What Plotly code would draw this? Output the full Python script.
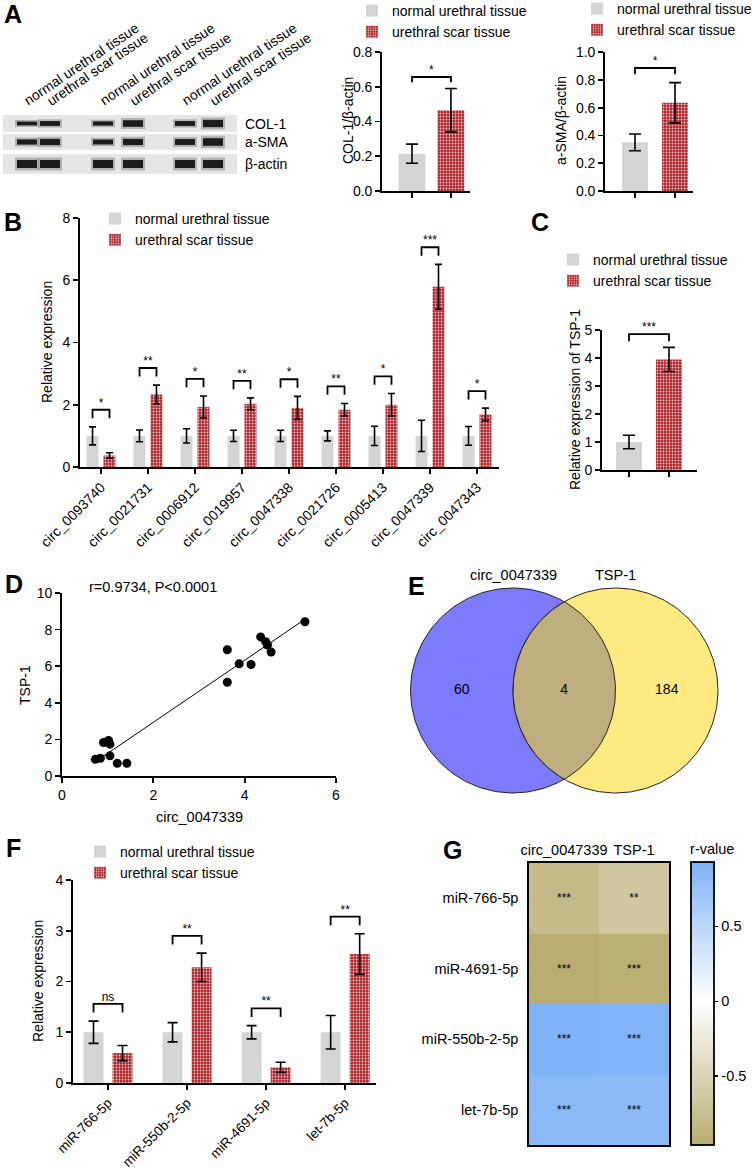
import numpy as np
import plotly.graph_objects as go

W, H = 755, 1171
FONT = "Arial, 'Liberation Sans', sans-serif"

# ------------------------------------------------------------------ data
groups = ["normal urethral tissue", "urethral scar tissue"]

# A: western blot (relative band intensity, 0..1)
blot_proteins = ["COL-1", "a-SMA", "β-actin"]
blot_lane_names = ["normal urethral tissue", "urethral scar tissue"] * 3
blot_lane_pos = [24, 47, 100, 130, 182, 210]
blot_intensity = [
    [0.40, 0.55, 0.45, 0.80, 0.55, 0.90],
    [0.60, 0.75, 0.55, 0.75, 0.70, 0.95],
    [1.00, 1.00, 1.00, 1.00, 1.00, 1.00],
]

# A: quantification
a1_label = "COL-1/β-actin"
a1_mean = [0.215, 0.465]
a1_err = [0.055, 0.125]
a1_sig = "*"
a2_label = "a-SMA/β-actin"
a2_mean = [0.35, 0.635]
a2_err = [0.06, 0.145]
a2_sig = "*"

# B: circRNA expression
b_circ = ["circ_0093740", "circ_0021731", "circ_0006912", "circ_0019957", "circ_0047338",
          "circ_0021726", "circ_0005413", "circ_0047339", "circ_0047343"]
b_normal_mean = [1.0, 1.0, 1.0, 1.0, 1.0, 1.0, 1.0, 1.0, 1.0]
b_normal_err = [0.29, 0.19, 0.23, 0.18, 0.18, 0.16, 0.31, 0.50, 0.30]
b_scar_mean = [0.37, 2.33, 1.93, 2.03, 1.90, 1.84, 2.00, 5.79, 1.69]
b_scar_err = [0.09, 0.30, 0.35, 0.19, 0.37, 0.20, 0.36, 0.72, 0.20]
b_sig = ["*", "**", "*", "**", "*", "**", "*", "***", "*"]

# C: TSP-1
c_mean = [1.0, 3.95]
c_err = [0.24, 0.43]
c_sig = "***"

# D: correlation
d_circ = [0.73, 0.84, 0.91, 1.02, 1.05, 1.05, 1.21, 1.42, 3.62, 3.62, 3.88, 4.14, 4.35, 4.46, 4.50, 4.58, 5.32]
d_tsp = [0.91, 0.97, 1.83, 1.94, 1.74, 1.10, 0.69, 0.69, 5.12, 6.90, 6.13, 6.09, 7.60, 7.34, 7.16, 6.77, 8.43]
d_text = "r=0.9734, P<0.0001"

# E: Venn
venn_sets = ["circ_0047339", "TSP-1"]
venn_counts = [60, 4, 184]

# F: miRNA expression
f_mirna = ["miR-766-5p", "miR-550b-2-5p", "miR-4691-5p", "let-7b-5p"]
f_normal_mean = [1.0, 1.0, 1.0, 1.0]
f_normal_err = [0.22, 0.19, 0.13, 0.33]
f_scar_mean = [0.59, 2.28, 0.31, 2.54]
f_scar_err = [0.15, 0.28, 0.10, 0.40]
f_sig = ["ns", "**", "**", "**"]

# G: correlation heatmap
g_targets = ["circ_0047339", "TSP-1"]
g_mirna = ["miR-766-5p", "miR-4691-5p", "miR-550b-2-5p", "let-7b-5p"]
g_r = [[-0.80, -0.65], [-0.96, -0.94], [0.93, 0.92], [0.86, 0.85]]
g_sig = [["***", "**"], ["***", "***"], ["***", "***"], ["***", "***"]]

# ------------------------------------------------------------------ helpers
def dx(x0, x1):
    return [x0 / W, x1 / W]

def dy(top, bottom):
    return [1 - bottom / H, 1 - top / H]

def px(x):
    return x / W

def py(y):
    return 1 - y / H

GREY = "#d5d5d5"
RED_BG = "#b0242a"
RED_FG = "#f0caca"
BLACK = "black"

def axstyle(**kw):
    d = dict(showline=True, linecolor=BLACK, linewidth=1.8, ticks="outside", ticklen=5,
             tickwidth=1.8, tickcolor=BLACK, showgrid=False, zeroline=False,
             tickfont=dict(size=14, color=BLACK, family=FONT), fixedrange=True)
    d.update(kw)
    return d

fig = go.Figure()

def add_pairs(xa, ya, leg, xn, xs, mn, en, ms, es, w, off_n, off_s, cap, sig, pad, tick, showleg=True):
    xn = np.asarray(xn, float)
    xs = np.asarray(xs, float)
    fig.add_trace(go.Bar(x=xn, y=mn, width=w, offset=off_n, name=groups[0], xaxis=xa, yaxis=ya,
                         marker=dict(color=GREY, line=dict(width=0)),
                         error_y=dict(type="data", array=en, color=BLACK, thickness=1.6, width=cap),
                         legend=leg, showlegend=showleg))
    fig.add_trace(go.Bar(x=xs, y=ms, width=w, offset=off_s, name=groups[1], xaxis=xa, yaxis=ya,
                         marker=dict(color=RED_BG, line=dict(width=0),
                                     pattern=dict(shape=".", bgcolor=RED_BG, fgcolor=RED_FG,
                                                  size=3, solidity=0.3)),
                         error_y=dict(type="data", array=es, color=BLACK, thickness=1.6, width=cap),
                         legend=leg, showlegend=showleg))
    cn = xn + off_n + w / 2
    cs = xs + off_s + w / 2
    tops = np.maximum(np.asarray(mn) + np.asarray(en), np.asarray(ms) + np.asarray(es))
    yb = tops + pad
    bx, by = [], []
    for a, b, y in zip(cn, cs, yb):
        bx += [a, a, b, b, None]
        by += [y - tick, y, y, y - tick, None]
    fig.add_trace(go.Scatter(x=bx, y=by, mode="lines", line=dict(color=BLACK, width=1.8),
                             xaxis=xa, yaxis=ya, showlegend=False, hoverinfo="skip", cliponaxis=False))
    fig.add_trace(go.Scatter(x=(cn + cs) / 2, y=yb, mode="text", text=sig, textposition="top center",
                             textfont=dict(size=12, color=BLACK, family=FONT), cliponaxis=False,
                             xaxis=xa, yaxis=ya, showlegend=False, hoverinfo="skip"))

# ------------------------------------------------------------------ A blot
row_y = [123.5, 142, 164]
row_half = [8.5, 8, 10]
shapes = []
for r, hh in zip(row_y, row_half):
    shapes.append(dict(type="rect", xref="x9", yref="y9", x0=0, x1=234, y0=r - hh, y1=r + hh,
                       fillcolor="#e6e6e6", line=dict(width=0), layer="below"))
for r, inten in zip(row_y, blot_intensity):
    for p, v in zip(blot_lane_pos, inten):
        fig.add_trace(go.Scatter(x=[p - 12, p + 12], y=[r, r], mode="lines",
                                 line=dict(color="#666666", width=3 + 10 * v), opacity=0.4,
                                 xaxis="x9", yaxis="y9", showlegend=False, hoverinfo="skip"))
        fig.add_trace(go.Scatter(x=[p - 10, p + 10], y=[r, r], mode="lines",
                                 line=dict(color="#1c1c1c", width=1 + 7 * v),
                                 xaxis="x9", yaxis="y9", showlegend=False, hoverinfo="skip"))

annotations = []
for p, name in zip(blot_lane_pos, blot_lane_names):
    annotations.append(dict(xref="x9", yref="paper", x=p, y=py(111), xanchor="left", yanchor="bottom",
                            xshift=-9, text=name, textangle=-34, showarrow=False,
                            font=dict(size=14, color=BLACK, family=FONT)))
for r, name in zip(row_y, blot_proteins):
    annotations.append(dict(xref="paper", yref="paper", x=px(243), y=py(r), xanchor="left",
                            yanchor="middle", text=name, showarrow=False,
                            font=dict(size=14, color=BLACK, family=FONT)))

# ------------------------------------------------------------------ A bars
add_pairs("x", "y", "legend", [0], [1], [a1_mean[0]], [a1_err[0]], [a1_mean[1]], [a1_err[1]],
          0.69, -0.345, -0.345, 6, [a1_sig], 0.066, 0.03)
add_pairs("x2", "y2", "legend2", [0], [1], [a2_mean[0]], [a2_err[0]], [a2_mean[1]], [a2_err[1]],
          0.65, -0.325, -0.325, 6, [a2_sig], 0.105, 0.045)

# ------------------------------------------------------------------ B
nb = len(b_circ)
add_pairs("x3", "y3", "legend3", np.arange(nb), np.arange(nb), b_normal_mean, b_normal_err,
          b_scar_mean, b_scar_err, 0.255, -0.308, 0.053, 3.5, b_sig, 0.55, 0.27)

# ------------------------------------------------------------------ C
add_pairs("x4", "y4", "legend4", [0], [1], [c_mean[0]], [c_err[0]], [c_mean[1]], [c_err[1]],
          0.65, -0.325, -0.325, 6, [c_sig], 0.47, 0.25)

# ------------------------------------------------------------------ D
fig.add_trace(go.Scatter(x=d_circ, y=d_tsp, mode="markers", marker=dict(color=BLACK, size=9),
                         xaxis="x5", yaxis="y5", showlegend=False))
k, b0 = np.polyfit(d_circ, d_tsp, 1)
lx = np.array([min(d_circ), max(d_circ)])
fig.add_trace(go.Scatter(x=lx, y=k * lx + b0, mode="lines", line=dict(color=BLACK, width=1),
                         xaxis="x5", yaxis="y5", showlegend=False))

# ------------------------------------------------------------------ E Venn
r_c = 1.0
d_c = 1.0
cl, cr = -d_c / 2, d_c / 2
th = np.linspace(0, 2 * np.pi, 241)
fig.add_trace(go.Scatter(x=cl + r_c * np.cos(th), y=r_c * np.sin(th), mode="lines", fill="toself",
                         fillcolor="#7b7bfc", line=dict(color="#222222", width=1),
                         xaxis="x6", yaxis="y6", showlegend=False, hoverinfo="skip"))
fig.add_trace(go.Scatter(x=cr + r_c * np.cos(th), y=r_c * np.sin(th), mode="lines", fill="toself",
                         fillcolor="#ffe981", line=dict(color="#222222", width=1),
                         xaxis="x6", yaxis="y6", showlegend=False, hoverinfo="skip"))
ang = np.arccos((d_c / 2) / r_c)
t1 = np.linspace(np.pi - ang, np.pi + ang, 80)
t2 = np.linspace(-ang, ang, 80)
lens_x = np.concatenate([cr + r_c * np.cos(t1), cl + r_c * np.cos(t2)])
lens_y = np.concatenate([r_c * np.sin(t1), r_c * np.sin(t2)])
fig.add_trace(go.Scatter(x=lens_x, y=lens_y, mode="lines", fill="toself", fillcolor="#bfae80",
                         line=dict(color="#222222", width=1),
                         xaxis="x6", yaxis="y6", showlegend=False, hoverinfo="skip"))
venn_pos = [((cl - r_c) + (cr - r_c)) / 2, 0.0, ((cl + r_c) + (cr + r_c)) / 2]
fig.add_trace(go.Scatter(x=venn_pos, y=[0, 0, 0], mode="text", text=[str(v) for v in venn_counts],
                         textfont=dict(size=14, color=BLACK, family=FONT),
                         xaxis="x6", yaxis="y6", showlegend=False, hoverinfo="skip"))
for cx, name in zip([cl, cr], venn_sets):
    annotations.append(dict(xref="x6", yref="y6", x=cx, y=r_c, xanchor="center", yanchor="bottom",
                            yshift=3, text=name, showarrow=False,
                            font=dict(size=14.5, color=BLACK, family=FONT)))

# ------------------------------------------------------------------ F
nf = len(f_mirna)
add_pairs("x7", "y7", "legend5", np.arange(nf), np.arange(nf), f_normal_mean, f_normal_err,
          f_scar_mean, f_scar_err, 0.253, -0.31, 0.057, 5, f_sig, 0.34, 0.17)

# ------------------------------------------------------------------ G heatmap
z = np.array(g_r)
zmin, zmax = z.min(), z.max()
mid = (0 - zmin) / (zmax - zmin)
fig.add_trace(go.Heatmap(z=z, x=g_targets, y=g_mirna, zmin=zmin, zmax=zmax,
                         colorscale=[[0, "#b9ad72"], [mid, "#ffffff"], [1, "#80b3f6"]],
                         text=g_sig, texttemplate="%{text}",
                         textfont=dict(size=12, color=BLACK, family=FONT),
                         xaxis="x8", yaxis="y8", hoverinfo="skip",
                         colorbar=dict(x=px(691), xanchor="left", thickness=23, thicknessmode="pixels",
                                       len=(1145 - 841) / H, lenmode="fraction", y=py(993),
                                       yanchor="middle", outlinewidth=1.8, outlinecolor=BLACK,
                                       ticks="outside", ticklen=4, tickwidth=1.5, tickcolor=BLACK,
                                       tickvals=[-0.5, 0, 0.5], ticktext=["-0.5", "0", "0.5"],
                                       tickfont=dict(size=14.5, color=BLACK, family=FONT),
                                       title=dict(text="r-value", side="top",
                                                  font=dict(size=14.5, color=BLACK, family=FONT)),
                                       xpad=0, ypad=0)))

# ------------------------------------------------------------------ titles / labels
def ytitle(text, x, y, size=14):
    annotations.append(dict(xref="paper", yref="paper", x=px(x), y=py(y), text=text, textangle=-90,
                            showarrow=False, xanchor="center", yanchor="middle",
                            font=dict(size=size, color=BLACK, family=FONT)))

ytitle(a1_label, 348, 121)
ytitle(a2_label, 561, 121)
ytitle("Relative expression", 47, 342)
ytitle("Relative expression of TSP-1", 575, 400)
ytitle("TSP-1", 25, 685)
ytitle("Relative expression", 38, 981)
annotations.append(dict(xref="paper", yref="paper", x=px(199), y=py(817), text="circ_0047339",
                        xanchor="center", yanchor="middle",
                        showarrow=False, font=dict(size=14.5, color=BLACK, family=FONT)))
annotations.append(dict(xref="paper", yref="paper", x=px(87), y=py(587), text=d_text, xanchor="left",
                        yanchor="middle",
                        showarrow=False, font=dict(size=14.5, color=BLACK, family=FONT)))

for lab, x, y in [("A", 13, 14), ("B", 13, 222), ("C", 540, 222), ("D", 14, 584),
                  ("E", 416, 586), ("F", 13, 848), ("G", 452, 850)]:
    annotations.append(dict(xref="paper", yref="paper", x=px(x), y=py(y), text="<b>%s</b>" % lab,
                            showarrow=False, xanchor="center", yanchor="middle",
                            font=dict(size=25, color=BLACK, family=FONT)))

# ------------------------------------------------------------------ layout
def legend_at(text_x, row1_y):
    return dict(x=px(text_x - 40), y=py(row1_y - 14), xanchor="left", yanchor="top",
                bgcolor="rgba(0,0,0,0)", borderwidth=0,
                font=dict(size=14, color=BLACK, family=FONT), tracegroupgap=0)

fig.update_layout(
    width=W, height=H, template="none",
    margin=dict(l=0, r=0, t=0, b=0, autoexpand=False),
    paper_bgcolor="white", plot_bgcolor="white",
    font=dict(family=FONT, color=BLACK, size=14),
    barmode="overlay",
    shapes=shapes, annotations=annotations,
    legend=legend_at(392, 9), legend2=legend_at(617, 7), legend3=legend_at(135, 217),
    legend4=legend_at(593, 258), legend5=legend_at(120, 850),
    # A1
    xaxis=axstyle(domain=dx(382, 470), range=[-0.77, 1.49], anchor="y", tickvals=[0, 1],
                  showticklabels=False),
    yaxis=axstyle(domain=dy(52, 191), range=[0, 0.8], anchor="x", tickvals=[0, 0.2, 0.4, 0.6, 0.8],
                  tickformat=".1f"),
    # A2
    xaxis2=axstyle(domain=dx(605, 693), range=[-0.75, 1.45], anchor="y2", tickvals=[0, 1],
                   showticklabels=False),
    yaxis2=axstyle(domain=dy(52, 191), range=[0, 1.0], anchor="x2",
                   tickvals=[0, 0.2, 0.4, 0.6, 0.8, 1.0], tickformat=".1f"),
    # B
    xaxis3=axstyle(domain=dx(80, 499), range=[-0.447, 8.468], anchor="y3",
                   tickvals=list(range(nb)), ticktext=b_circ, tickangle=-45),
    yaxis3=axstyle(domain=dy(218, 467), range=[0, 8], anchor="x3", tickvals=[0, 2, 4, 6, 8]),
    # C
    xaxis4=axstyle(domain=dx(602, 697), range=[-0.675, 1.7], anchor="y4", tickvals=[0, 1],
                   showticklabels=False),
    yaxis4=axstyle(domain=dy(330, 470), range=[0, 5], anchor="x4", tickvals=[0, 1, 2, 3, 4, 5]),
    # D
    xaxis5=axstyle(domain=dx(62, 336), range=[0, 6], anchor="y5", tickvals=[0, 2, 4, 6]),
    yaxis5=axstyle(domain=dy(593, 776), range=[0, 10], anchor="x5", tickvals=[0, 2, 4, 6, 8, 10]),
    # E
    xaxis6=dict(domain=dx(395, 735), range=[(395 - 564.25) / 102.5, (735 - 564.25) / 102.5],
                anchor="y6", visible=False, fixedrange=True),
    yaxis6=dict(domain=dy(580, 800), range=[-(800 - 690.5) / 102.5, (690.5 - 580) / 102.5],
                anchor="x6", visible=False, fixedrange=True),
    # F
    xaxis7=axstyle(domain=dx(73, 376), range=[-0.443, 3.39], anchor="y7",
                   tickvals=list(range(nf)), ticktext=f_mirna, tickangle=-45,
                   tickfont=dict(size=13.5, color=BLACK, family=FONT)),
    yaxis7=axstyle(domain=dy(880, 1083), range=[0, 4], anchor="x7", tickvals=[0, 1, 2, 3, 4]),
    # G
    xaxis8=dict(domain=dx(529, 669), anchor="y8", side="top", showline=True, mirror=True,
                linecolor=BLACK, linewidth=1.8, ticks="", showgrid=False, zeroline=False,
                tickfont=dict(size=14.5, color=BLACK, family=FONT), fixedrange=True),
    yaxis8=dict(domain=dy(863, 1145), anchor="x8", autorange="reversed", showline=True, mirror=True,
                linecolor=BLACK, linewidth=1.8, ticks="", showgrid=False, zeroline=False,
                ticklabelstandoff=6,
                tickfont=dict(size=14.5, color=BLACK, family=FONT), fixedrange=True),
    # blot
    xaxis9=dict(domain=dx(3, 237), range=[0, 234], anchor="y9", visible=False, fixedrange=True),
    yaxis9=dict(domain=dy(112, 176), range=[176, 112], anchor="x9", visible=False, fixedrange=True),
)

fig.write_html("out.html", config={"displayModeBar": False, "staticPlot": True},
               post_script="document.body.style.margin='0';document.body.style.padding='0';"
                           "document.documentElement.style.overflow='hidden';")
